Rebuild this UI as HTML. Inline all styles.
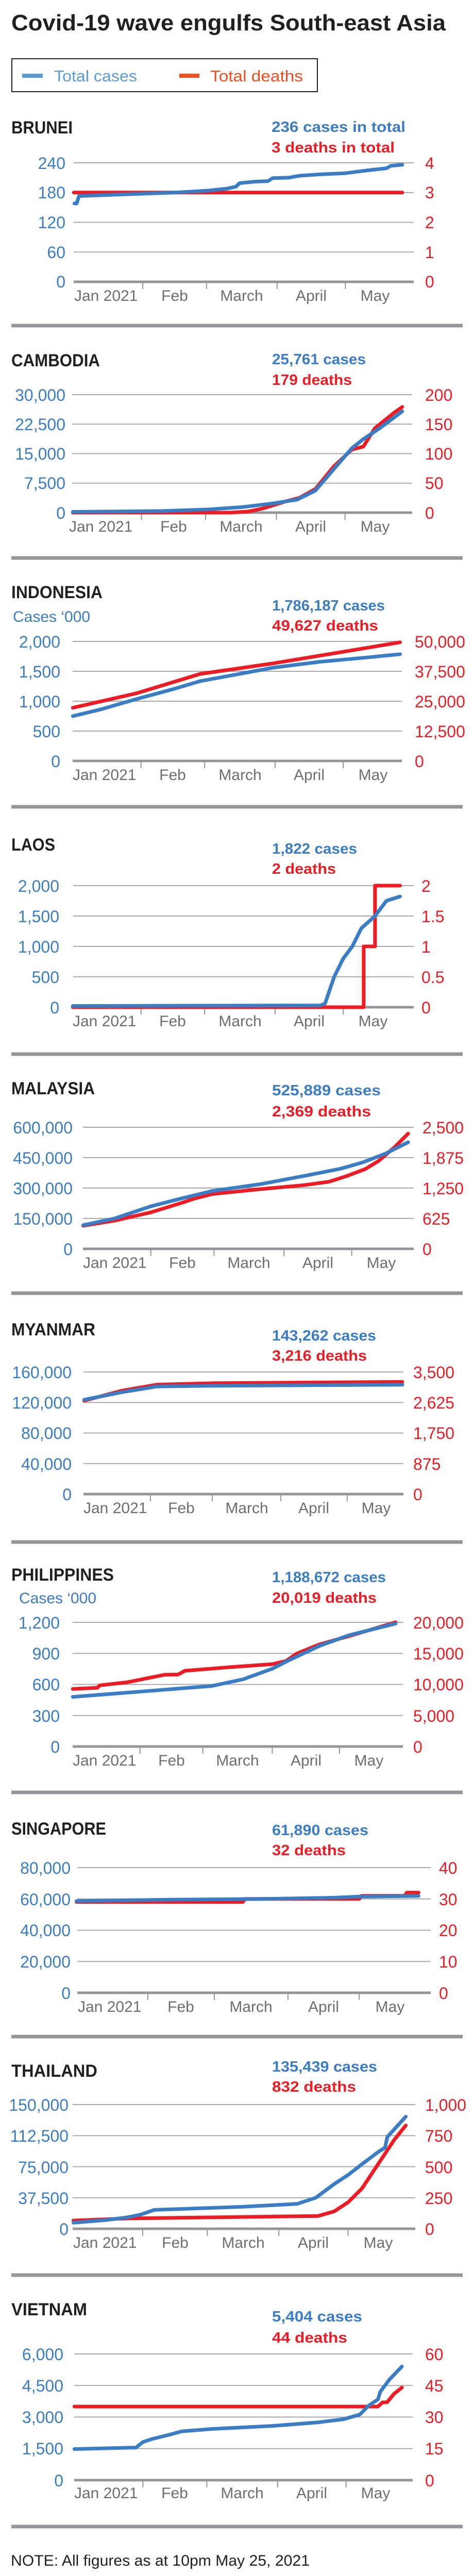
<!DOCTYPE html>
<html><head><meta charset="utf-8"><style>
html,body{margin:0;padding:0;background:#fff;width:920px;height:5132px;overflow:hidden;}
svg{display:block;position:absolute;left:0;top:0;}
script{display:none;}
.t{font-family:"Liberation Sans",sans-serif;}
.ttl{font-weight:bold;fill:#231f20;font-size:44px;}
.cn{font-weight:bold;fill:#231f20;font-size:34px;}
.ab{font-weight:bold;fill:#3a7dc4;font-size:29px;}
.ar{font-weight:bold;fill:#ec1c24;font-size:29px;}
.lb{fill:#3a7dc4;font-size:32px;text-anchor:end;}
.lr{fill:#ec1c24;font-size:32px;}
.m{fill:#6d6e70;font-size:30px;}
.mc{fill:#6d6e70;font-size:30px;text-anchor:middle;}
.ft{fill:#231f20;font-size:30px;}
</style></head><body>
<svg id="s" width="920" height="5132" viewBox="0 0 920 5132" xmlns="http://www.w3.org/2000/svg">
<g id="g"></g>
<g class="t">
<text class="ttl" x="22" y="59" textLength="843" lengthAdjust="spacingAndGlyphs">Covid-19 wave engulfs South-east Asia</text>
<rect x="23" y="114" width="593" height="64" fill="none" stroke="#231f20" stroke-width="2"/>
<rect x="43" y="143" width="40" height="8" fill="#5b9bd5"/>
<rect x="348" y="143" width="39" height="8" fill="#f04e23"/>
<text x="105" y="158" font-size="31" fill="#5b9bd5" textLength="161" lengthAdjust="spacingAndGlyphs">Total cases</text>
<text x="408" y="158" font-size="31" fill="#f04e23" textLength="180" lengthAdjust="spacingAndGlyphs">Total deaths</text>

<text class="cn" x="22" y="259" textLength="119" lengthAdjust="spacingAndGlyphs">BRUNEI</text>
<text class="ab" x="527" y="256" textLength="260" lengthAdjust="spacingAndGlyphs">236 cases in total</text>
<text class="ar" x="527" y="296" textLength="239" lengthAdjust="spacingAndGlyphs">3 deaths in total</text>
<text class="lb" x="127" y="328">240</text><text class="lb" x="127" y="385">180</text><text class="lb" x="127" y="443">120</text><text class="lb" x="127" y="501">60</text><text class="lb" x="127" y="558">0</text>
<text class="lr" x="825" y="328">4</text><text class="lr" x="825" y="385">3</text><text class="lr" x="825" y="443">2</text><text class="lr" x="825" y="501">1</text><text class="lr" x="825" y="558">0</text>
<text class="m" x="144" y="584">Jan 2021</text><text class="mc" x="339" y="584">Feb</text><text class="mc" x="469" y="584">March</text><text class="mc" x="604" y="584">April</text><text class="mc" x="728" y="584">May</text>

<text class="cn" x="22" y="711" textLength="172" lengthAdjust="spacingAndGlyphs">CAMBODIA</text>
<text class="ab" x="528" y="707" textLength="182" lengthAdjust="spacingAndGlyphs">25,761 cases</text>
<text class="ar" x="528" y="747" textLength="155" lengthAdjust="spacingAndGlyphs">179 deaths</text>
<text class="lb" x="127" y="778">30,000</text><text class="lb" x="127" y="835">22,500</text><text class="lb" x="127" y="892">15,000</text><text class="lb" x="127" y="949">7,500</text><text class="lb" x="127" y="1007">0</text>
<text class="lr" x="825" y="778">200</text><text class="lr" x="825" y="835">150</text><text class="lr" x="825" y="892">100</text><text class="lr" x="825" y="949">50</text><text class="lr" x="825" y="1007">0</text>
<text class="m" x="134" y="1032">Jan 2021</text><text class="mc" x="337" y="1032">Feb</text><text class="mc" x="468" y="1032">March</text><text class="mc" x="603" y="1032">April</text><text class="mc" x="728" y="1032">May</text>

<text class="cn" x="22" y="1161" textLength="177" lengthAdjust="spacingAndGlyphs">INDONESIA</text>
<text x="25" y="1207" font-size="30" fill="#3a7dc4">Cases ‘000</text>
<text class="ab" x="528" y="1185" textLength="219" lengthAdjust="spacingAndGlyphs">1,786,187 cases</text>
<text class="ar" x="528" y="1224" textLength="206" lengthAdjust="spacingAndGlyphs">49,627 deaths</text>
<text class="lb" x="117" y="1257">2,000</text><text class="lb" x="117" y="1315">1,500</text><text class="lb" x="117" y="1373">1,000</text><text class="lb" x="117" y="1431">500</text><text class="lb" x="117" y="1489">0</text>
<text class="lr" x="805" y="1257">50,000</text><text class="lr" x="805" y="1315">37,500</text><text class="lr" x="805" y="1373">25,000</text><text class="lr" x="805" y="1431">12,500</text><text class="lr" x="805" y="1489">0</text>
<text class="m" x="141" y="1514">Jan 2021</text><text class="mc" x="335" y="1514">Feb</text><text class="mc" x="466" y="1514">March</text><text class="mc" x="600" y="1514">April</text><text class="mc" x="724" y="1514">May</text>

<text class="cn" x="22" y="1651" textLength="85" lengthAdjust="spacingAndGlyphs">LAOS</text>
<text class="ab" x="528" y="1657" textLength="165" lengthAdjust="spacingAndGlyphs">1,822 cases</text>
<text class="ar" x="528" y="1696" textLength="124" lengthAdjust="spacingAndGlyphs">2 deaths</text>
<text class="lb" x="115" y="1731">2,000</text><text class="lb" x="115" y="1790">1,500</text><text class="lb" x="115" y="1849">1,000</text><text class="lb" x="115" y="1908">500</text><text class="lb" x="115" y="1967">0</text>
<text class="lr" x="818" y="1731">2</text><text class="lr" x="818" y="1790">1.5</text><text class="lr" x="818" y="1849">1</text><text class="lr" x="818" y="1908">0.5</text><text class="lr" x="818" y="1967">0</text>
<text class="m" x="141" y="1992">Jan 2021</text><text class="mc" x="335" y="1992">Feb</text><text class="mc" x="466" y="1992">March</text><text class="mc" x="600" y="1992">April</text><text class="mc" x="724" y="1992">May</text>

<text class="cn" x="22" y="2124" textLength="162" lengthAdjust="spacingAndGlyphs">MALAYSIA</text>
<text class="ab" x="528" y="2126" textLength="211" lengthAdjust="spacingAndGlyphs">525,889 cases</text>
<text class="ar" x="528" y="2167" textLength="192" lengthAdjust="spacingAndGlyphs">2,369 deaths</text>
<text class="lb" x="141" y="2200">600,000</text><text class="lb" x="141" y="2259">450,000</text><text class="lb" x="141" y="2318">300,000</text><text class="lb" x="141" y="2377">150,000</text><text class="lb" x="141" y="2436">0</text>
<text class="lr" x="820" y="2200">2,500</text><text class="lr" x="820" y="2259">1,875</text><text class="lr" x="820" y="2318">1,250</text><text class="lr" x="820" y="2377">625</text><text class="lr" x="820" y="2436">0</text>
<text class="m" x="161" y="2461">Jan 2021</text><text class="mc" x="354" y="2461">Feb</text><text class="mc" x="483" y="2461">March</text><text class="mc" x="617" y="2461">April</text><text class="mc" x="740" y="2461">May</text>

<text class="cn" x="22" y="2592" textLength="163" lengthAdjust="spacingAndGlyphs">MYANMAR</text>
<text class="ab" x="528" y="2602" textLength="202" lengthAdjust="spacingAndGlyphs">143,262 cases</text>
<text class="ar" x="528" y="2641" textLength="184" lengthAdjust="spacingAndGlyphs">3,216 deaths</text>
<text class="lb" x="139" y="2675">160,000</text><text class="lb" x="139" y="2734">120,000</text><text class="lb" x="139" y="2793">80,000</text><text class="lb" x="139" y="2853">40,000</text><text class="lb" x="139" y="2912">0</text>
<text class="lr" x="802" y="2675">3,500</text><text class="lr" x="802" y="2734">2,625</text><text class="lr" x="802" y="2793">1,750</text><text class="lr" x="802" y="2853">875</text><text class="lr" x="802" y="2912">0</text>
<text class="m" x="162" y="2937">Jan 2021</text><text class="mc" x="352" y="2937">Feb</text><text class="mc" x="479" y="2937">March</text><text class="mc" x="609" y="2937">April</text><text class="mc" x="730" y="2937">May</text>

<text class="cn" x="22" y="3068" textLength="199" lengthAdjust="spacingAndGlyphs">PHILIPPINES</text>
<text x="37" y="3112" font-size="30" fill="#3a7dc4">Cases ‘000</text>
<text class="ab" x="528" y="3071" textLength="221" lengthAdjust="spacingAndGlyphs">1,188,672 cases</text>
<text class="ar" x="528" y="3111" textLength="203" lengthAdjust="spacingAndGlyphs">20,019 deaths</text>
<text class="lb" x="116" y="3161">1,200</text><text class="lb" x="116" y="3221">900</text><text class="lb" x="116" y="3281">600</text><text class="lb" x="116" y="3342">300</text><text class="lb" x="116" y="3402">0</text>
<text class="lr" x="802" y="3161">20,000</text><text class="lr" x="802" y="3221">15,000</text><text class="lr" x="802" y="3281">10,000</text><text class="lr" x="802" y="3342">5,000</text><text class="lr" x="802" y="3402">0</text>
<text class="m" x="141" y="3427">Jan 2021</text><text class="mc" x="333" y="3427">Feb</text><text class="mc" x="461" y="3427">March</text><text class="mc" x="594" y="3427">April</text><text class="mc" x="716" y="3427">May</text>

<text class="cn" x="22" y="3561" textLength="184" lengthAdjust="spacingAndGlyphs">SINGAPORE</text>
<text class="ab" x="528" y="3562" textLength="187" lengthAdjust="spacingAndGlyphs">61,890 cases</text>
<text class="ar" x="528" y="3601" textLength="143" lengthAdjust="spacingAndGlyphs">32 deaths</text>
<text class="lb" x="137" y="3637">80,000</text><text class="lb" x="137" y="3698">60,000</text><text class="lb" x="137" y="3758">40,000</text><text class="lb" x="137" y="3819">20,000</text><text class="lb" x="137" y="3880">0</text>
<text class="lr" x="852" y="3637">40</text><text class="lr" x="852" y="3698">30</text><text class="lr" x="852" y="3758">20</text><text class="lr" x="852" y="3819">10</text><text class="lr" x="852" y="3880">0</text>
<text class="m" x="151" y="3905">Jan 2021</text><text class="mc" x="351" y="3905">Feb</text><text class="mc" x="487" y="3905">March</text><text class="mc" x="628" y="3905">April</text><text class="mc" x="757" y="3905">May</text>

<text class="cn" x="22" y="4031" textLength="167" lengthAdjust="spacingAndGlyphs">THAILAND</text>
<text class="ab" x="528" y="4021" textLength="204" lengthAdjust="spacingAndGlyphs">135,439 cases</text>
<text class="ar" x="528" y="4060" textLength="163" lengthAdjust="spacingAndGlyphs">832 deaths</text>
<text class="lb" x="133" y="4097">150,000</text><text class="lb" x="133" y="4157">112,500</text><text class="lb" x="133" y="4218">75,000</text><text class="lb" x="133" y="4278">37,500</text><text class="lb" x="133" y="4338">0</text>
<text class="lr" x="825" y="4097">1,000</text><text class="lr" x="825" y="4157">750</text><text class="lr" x="825" y="4218">500</text><text class="lr" x="825" y="4278">250</text><text class="lr" x="825" y="4338">0</text>
<text class="m" x="142" y="4363">Jan 2021</text><text class="mc" x="340" y="4363">Feb</text><text class="mc" x="472" y="4363">March</text><text class="mc" x="608" y="4363">April</text><text class="mc" x="734" y="4363">May</text>

<text class="cn" x="22" y="4494" textLength="147" lengthAdjust="spacingAndGlyphs">VIETNAM</text>
<text class="ab" x="528" y="4506" textLength="175" lengthAdjust="spacingAndGlyphs">5,404 cases</text>
<text class="ar" x="528" y="4547" textLength="146" lengthAdjust="spacingAndGlyphs">44 deaths</text>
<text class="lb" x="123" y="4581">6,000</text><text class="lb" x="123" y="4642">4,500</text><text class="lb" x="123" y="4703">3,000</text><text class="lb" x="123" y="4764">1,500</text><text class="lb" x="123" y="4826">0</text>
<text class="lr" x="825" y="4581">60</text><text class="lr" x="825" y="4642">45</text><text class="lr" x="825" y="4703">30</text><text class="lr" x="825" y="4764">15</text><text class="lr" x="825" y="4826">0</text>
<text class="m" x="144" y="4849">Jan 2021</text><text class="mc" x="339" y="4849">Feb</text><text class="mc" x="470" y="4849">March</text><text class="mc" x="605" y="4849">April</text><text class="mc" x="729" y="4849">May</text>

<text class="ft" x="21" y="4980" textLength="580" lengthAdjust="spacingAndGlyphs">NOTE: All figures as at 10pm May 25, 2021</text>
<text class="ft" x="21" y="5057" textLength="820" lengthAdjust="spacingAndGlyphs">Sources: OUR WORLD IN DATA, JOHNS HOPKINS UNIVERSITY</text>
<text class="ft" x="21" y="5110" textLength="343" lengthAdjust="spacingAndGlyphs">STRAITS TIMES GRAPHICS</text>
</g>
</svg><script>
(function(){
var NS="http://www.w3.org/2000/svg",g=document.getElementById("g");
function el(n,a){var e=document.createElementNS(NS,n);for(var k in a)e.setAttribute(k,a[k]);g.appendChild(e);return e;}
var seps=[632,1083,1566,2046,2510,2993,3479,3953,4416,4904];
seps.forEach(function(y){el("rect",{x:22,y:y-3.5,width:876,height:7,fill:"#939598"});});
var C=[
{top:316,zero:547,g1:143,g2:803,x0:140,k:4.42,bm:240,rm:4,
b:[[1,158],[2,158],[3,173],[27,177],[45,180],[60,184],[68,188],[72,192],[73.5,199],[80,202],[86,203],[88,209],[95,210],[100,214],[110,217],[120,219],[125,222],[132,226],[138,229],[140,234],[145,236]],
r:[[0.7,3],[145,3]]},
{top:766,zero:995,g1:140,g2:800,x0:137,k:4.44,bm:30000,rm:200,
b:[[1,200],[40,400],[60,800],[75,1400],[88,2300],[99,3300],[107,5600],[115,11000],[123,16400],[128,18700],[135,21400],[145,25761]],
r:[[1,0],[70,0],[78,2],[84,7],[94,19],[100,25],[107,40],[115,78],[123,107],[128,112],[133,143],[141,168],[145,179]]},
{top:1245,zero:1477,g1:141,g2:780,x0:137,k:4.41,bm:2000,rm:50000,
b:[[1,750],[13,860],[29,1035],[45,1200],[57,1335],[75,1460],[89,1560],[110,1660],[130,1730],[145,1786]],
r:[[1,22250],[29,28300],[57,36400],[89,40800],[117,45200],[145,49627]]},
{top:1719,zero:1955,g1:142,g2:803,x0:137,k:4.41,bm:2000,rm:2,
b:[[1,20],[110,30],[112,60],[116,500],[120,800],[124,1000],[128,1300],[134,1500],[139,1750],[145,1822]],
r:[[1,0],[129,0],[129,1],[134,1],[134,2],[145,2]]},
{top:2188,zero:2424,g1:161,g2:803,x0:157,k:4.38,bm:600000,rm:2500,
b:[[1,117000],[15,150000],[31,210000],[45,250000],[58,285000],[80,320000],[99,360000],[115,395000],[125,427000],[135,470000],[145,526000]],
r:[[1,475],[15,580],[31,750],[45,950],[50,1030],[58,1125],[80,1230],[99,1310],[110,1380],[118,1500],[126,1640],[132,1810],[139,2090],[145,2369]]},
{top:2663,zero:2900,g1:162,g2:783,x0:159,k:4.29,bm:160000,rm:3500,
b:[[1,123600],[18,133500],[34,141000],[60,142000],[145,143262]],
r:[[1,2677],[18,2963],[34,3137],[60,3180],[145,3216]]},
{top:3149,zero:3390,g1:141,g2:782,x0:137,k:4.35,bm:1200,rm:20000,
b:[[1,480],[36,539],[63,585],[77,650],[90,752],[98,840],[111,972],[124,1074],[145,1188]],
r:[[1,9270],[12,9460],[13,9850],[25,10340],[42,11560],[48,11600],[51,12200],[71,12780],[90,13270],[96,13760],[101,14980],[111,16440],[124,17760],[145,20019]]},
{top:3625,zero:3868,g1:150,g2:836,x0:144,k:4.61,bm:80000,rm:40,
b:[[1,58600],[40,59500],[80,60000],[110,60800],[120,61500],[145,61890]],
r:[[1,29],[71,29],[72,30],[120,30],[121,31],[139,31],[140,32],[145,32]]},
{top:4085,zero:4326,g1:141,g2:806,x0:138,k:4.48,bm:150000,rm:1000,
b:[[1,7350],[15,10500],[24,13600],[30,17000],[36,22800],[74,26500],[98,30100],[106,37500],[114,54000],[120,65000],[126,78000],[133,92600],[136,98000],[137,111000],[145,135439]],
r:[[1,66],[24,83],[107,103],[114,140],[120,213],[126,324],[133,520],[140,716],[145,832]]},
{top:4569,zero:4814,g1:144,g2:801,x0:140,k:4.43,bm:6000,rm:60,
b:[[1,1478],[28,1550],[31,1810],[35,1957],[43,2170],[48,2320],[61,2435],[88,2580],[108,2750],[119,2900],[126,3115],[130,3550],[134,3840],[135,4200],[139,4780],[144.5,5404]],
r:[[1,35],[134,35],[136,37],[138,37],[141,41],[144.5,44]]}
];
C.forEach(function(c){
 var h=c.zero-c.top;
 for(var i=0;i<4;i++){var y=c.top+i*h/4;el("line",{x1:c.g1,x2:c.g2,y1:y,y2:y,stroke:"#a7a9ac","stroke-width":2});}
 [31,59,90,120].forEach(function(d){var x=c.x0+d*c.k;el("line",{x1:x,x2:x,y1:c.zero,y2:c.zero+14,stroke:"#939598","stroke-width":2});});
 el("line",{x1:c.g1,x2:c.g2,y1:c.zero,y2:c.zero,stroke:"#939598","stroke-width":5});
 function path(pts,mx,col){var s=pts.map(function(p,i){return (i?"L":"M")+(c.x0+p[0]*c.k).toFixed(1)+" "+(c.zero-p[1]/mx*h).toFixed(1);}).join(" ");
  el("path",{d:s,fill:"none",stroke:col,"stroke-width":7,"stroke-linejoin":"round","stroke-linecap":"round"});}
 path(c.r,c.rm,"#ed1c24");
 path(c.b,c.bm,"#3b7dc4");
});
})();
</script></body></html>
